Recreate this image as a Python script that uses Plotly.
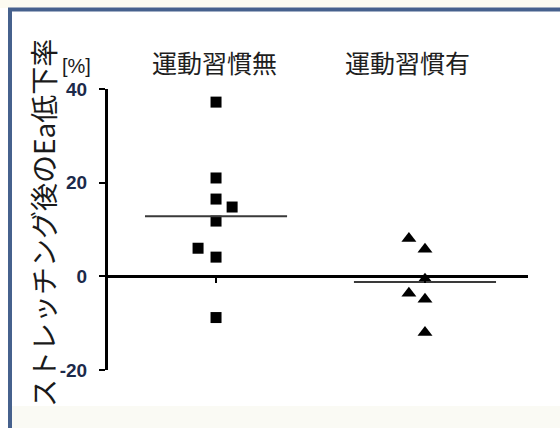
import numpy as np
import plotly.graph_objects as go

# Groups and per-subject values (% drop in Ea after stretching)
groups = ["運動習慣無", "運動習慣有"]
no_habit = [37.2, 21.0, 16.5, 14.8, 11.8, 6.0, 4.1, -8.8]
no_habit_jitter = [0.0, 0.0, 0.0, 0.077, 0.0, -0.086, 0.0, 0.0]
habit = [8.1, 5.8, -0.6, -3.6, -4.9, -12.0]
habit_jitter = [-0.077, 0.0, 0.0, -0.077, 0.0, 0.0]
y_ticks = [-20, 0, 20, 40]

W, H = 560, 428
ML, MR, MT, MB = 108, 32, 89, 58
PW, PH = W - ML - MR, H - MT - MB


def px(x):
    return (x - ML) / PW


def py(y):
    return (H - MB - y) / PH


fig = go.Figure()

# subject points
fig.add_trace(go.Scatter(
    x=[0 + j for j in no_habit_jitter], y=no_habit, mode="markers",
    marker=dict(symbol="square", size=11, color="black"),
    showlegend=False, hoverinfo="y"))
fig.add_trace(go.Scatter(
    x=[1 + j for j in habit_jitter], y=habit, mode="markers",
    marker=dict(symbol="triangle-up", size=13, color="black"),
    showlegend=False, hoverinfo="y"))

# group mean bars
for g, vals in enumerate([no_habit, habit]):
    m = float(np.mean(vals))
    fig.add_trace(go.Scatter(
        x=[g - 0.34, g + 0.34], y=[m, m], mode="lines",
        line=dict(color="#3a3a3a", width=2),
        showlegend=False, hoverinfo="skip"))

# group headers
header_x = [214, 407]
for name, hx in zip(groups, header_x):
    fig.add_annotation(
        x=px(hx), y=py(62), xref="paper", yref="paper",
        text=name, showarrow=False, xanchor="center", yanchor="middle",
        font=dict(family="Noto Sans CJK JP", size=25, color="#1e1e1e"))

# y-axis title and unit
fig.add_annotation(
    x=px(43), y=py(223), xref="paper", yref="paper",
    text="ストレッチング後のEa低下率", textangle=-90, showarrow=False,
    xanchor="center", yanchor="middle",
    font=dict(family="Noto Sans CJK JP", size=28, color="#1a1a1a"))
fig.add_annotation(
    x=px(76), y=py(66), xref="paper", yref="paper",
    text="[%]", showarrow=False, xanchor="center", yanchor="middle",
    font=dict(family="Arial, Liberation Sans", size=20, color="#1a1a1a"))

# frame decoration
shapes = [
    dict(type="rect", xref="paper", yref="paper", layer="below",
         x0=px(0), x1=px(W), y0=py(0), y1=py(8),
         fillcolor="#fcfbf1", line=dict(width=0)),
    dict(type="rect", xref="paper", yref="paper", layer="below",
         x0=px(12), x1=px(W), y0=py(406), y1=py(H),
         fillcolor="#fafaf4", line=dict(width=0)),
    dict(type="line", xref="paper", yref="paper",
         x0=px(8), x1=px(W), y0=py(9.5), y1=py(9.5),
         line=dict(color="#46618d", width=4)),
    dict(type="line", xref="paper", yref="paper",
         x0=px(10), x1=px(10), y0=py(8), y1=py(H),
         line=dict(color="#46618d", width=4)),
]

fig.update_layout(
    width=W, height=H,
    margin=dict(l=ML, r=MR, t=MT, b=MB),
    paper_bgcolor="white", plot_bgcolor="white",
    shapes=shapes,
    xaxis=dict(
        range=[-0.517, 1.493], showgrid=False, zeroline=False,
        showline=False, anchor="free", position=1 / 3,
        tickmode="array", tickvals=[0, 1], showticklabels=False,
        ticks="outside", ticklen=6, tickwidth=2, tickcolor="black"),
    yaxis=dict(
        range=[-20, 40], showgrid=False,
        zeroline=True, zerolinecolor="black", zerolinewidth=3,
        showline=True, linecolor="black", linewidth=3,
        tickmode="array", tickvals=y_ticks,
        ticktext=[str(v) for v in y_ticks],
        ticks="outside", ticklen=6, tickwidth=2, tickcolor="black",
        ticklabelstandoff=8,
        tickfont=dict(family="Arial, Liberation Sans", size=19,
                      color="#1c2a4a", weight="bold")),
)

fig.write_html("out.html")
